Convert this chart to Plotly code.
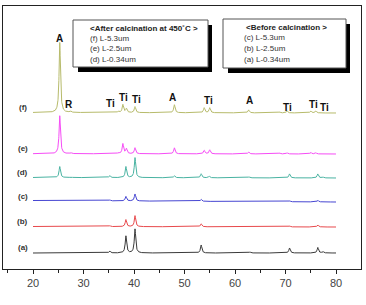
import numpy as np
import plotly.graph_objects as go

# ---------------- data ----------------
two_theta_range = [20, 80]

# peak positions (2 theta) and heights (a.u.) per pattern
a_pos = [35.2, 38.4, 40.2, 53.3, 63.0, 70.8, 76.4, 77.4]
a_hgt = [2, 17, 24, 8, 1, 5, 5.5, 1.5]

b_pos = [35.2, 38.4, 40.2, 53.3, 70.8, 76.4]
b_hgt = [1, 7, 11, 3, 1, 2]

c_pos = [35.2, 38.4, 40.2, 53.3, 70.8, 76.4]
c_hgt = [1, 4.5, 7, 2, 1, 1.5]

d_pos = [25.3, 27.5, 35.2, 38.4, 40.2, 48.0, 53.3, 54.9, 62.8, 70.8, 76.4, 77.4]
d_hgt = [11, 0.7, 2, 11, 20, 2, 4, 1.5, 1, 4, 4, 1]

e_pos = [25.3, 27.5, 36.9, 37.8, 38.5, 40.2, 48.0, 53.9, 55.0, 62.7, 68.8, 70.3, 75.0, 76.0]
e_hgt = [38, 1, 1, 10, 5, 6, 6, 3.5, 4, 2, 1, 1.2, 1.5, 1.2]

f_pos = [25.3, 27.4, 36.9, 37.8, 38.5, 40.2, 48.0, 53.9, 55.0, 62.7, 68.8, 70.3, 75.0, 76.0]
f_hgt = [70, 1.5, 1.5, 8, 4, 6, 8, 5, 5, 3, 1, 2, 2, 2]

series_labels = ["(a)", "(b)", "(c)", "(d)", "(e)", "(f)"]
offsets = [16, 42, 67, 91, 115, 156]
# baseline drift at 20 deg for each pattern (a.u.)
drift = [0, 0.5, 1.5, 0.5, 0.3, 0.5]

peak_labels = ["A", "R", "Ti", "Ti", "Ti", "A", "Ti", "A", "Ti", "Ti", "Ti"]
peak_label_x = [25.2, 27.1, 35.4, 38.0, 40.4, 47.7, 54.7, 62.8, 70.3, 75.6, 77.8]
peak_label_y = [231, 165, 166, 172, 170, 172, 169, 169, 162, 165, 162]

legend_after_title = "<After calcination at 450\u02daC >"
legend_after = ["(f) L-5.3um", "(e) L-2.5um", "(d) L-0.34um"]
legend_before_title = "<Before calcination >"
legend_before = ["(c) L-5.3um", "(b) L-2.5um", "(a) L-0.34um"]

x_ticks = [20, 30, 40, 50, 60, 70, 80]
x_title = "2 Theta"

colors = ["#3a3a3a", "#e8494c", "#4646d2", "#49b3a2", "#f64cf6", "#b7bb6b"]

# ---------------- build figure ----------------
x = np.arange(two_theta_range[0], two_theta_range[1] + 0.001, 0.02)
W = 0.33  # peak FWHM


def profile(pos, hgt, base, dr):
    y = np.full_like(x, base, dtype=float)
    y += dr * (80 - x) / 60
    for p, h in zip(pos, hgt):
        y += h / (1 + ((x - p) / (W / 2)) ** 2)
    return y


all_pos = [a_pos, b_pos, c_pos, d_pos, e_pos, f_pos]
all_hgt = [a_hgt, b_hgt, c_hgt, d_hgt, e_hgt, f_hgt]

fig = go.Figure()
for i in range(6):
    fig.add_trace(go.Scatter(
        x=x, y=profile(all_pos[i], all_hgt[i], offsets[i], drift[i]),
        mode="lines", line=dict(color=colors[i], width=1),
        showlegend=False, hoverinfo="skip"))

FONT = "Liberation Sans, Arial, sans-serif"
ann = []
for i, lab in enumerate(series_labels):
    ann.append(dict(x=18.0, y=offsets[i] + 5.5, text="<b>%s</b>" % lab, showarrow=False,
                    xref="x", yref="y", font=dict(family=FONT, size=8, color="#333")))
for t, px, py in zip(peak_labels, peak_label_x, peak_label_y):
    ann.append(dict(x=px, y=py, text="<b>%s</b>" % t, showarrow=False, xref="x", yref="y",
                    font=dict(family=FONT, size=10, color="#111")))


# pixel -> data helpers for decorations (plot area x 3..361, y 6..269)
def X(px):
    return 20 + (px - 33) / 5.05


def Y(py):
    return 269 - py


shapes = []


def box(x0, y0, x1, y1):
    shapes.append(dict(type="rect", xref="x", yref="y", x0=X(x0 + 5), x1=X(x1 + 4),
                       y0=Y(y0 + 5), y1=Y(y1 + 5), fillcolor="#000", line=dict(width=0)))
    shapes.append(dict(type="rect", xref="x", yref="y", x0=X(x0), x1=X(x1),
                       y0=Y(y0), y1=Y(y1), fillcolor="#fff",
                       line=dict(color="#555", width=1)))


box(73, 20, 208, 67)
box(223, 19, 346, 68)

ann.append(dict(x=X(88), y=Y(28), text="<b>%s</b>" % legend_after_title, showarrow=False,
                xref="x", yref="y", xanchor="left", font=dict(family=FONT, size=8, color="#222")))
for k, t in enumerate(legend_after):
    ann.append(dict(x=X(88), y=Y(38.5 + 10.4 * k), text=t, showarrow=False,
                    xref="x", yref="y", xanchor="left", font=dict(family=FONT, size=8, color="#333")))
ann.append(dict(x=X(286), y=Y(27), text="<b>%s</b>" % legend_before_title, showarrow=False,
                xref="x", yref="y", xanchor="center", font=dict(family=FONT, size=8, color="#222")))
for k, t in enumerate(legend_before):
    ann.append(dict(x=X(242), y=Y(37.5 + 10.8 * k), text=t, showarrow=False,
                    xref="x", yref="y", xanchor="left", font=dict(family=FONT, size=8, color="#333")))

ann.append(dict(x=0.5, y=Y(302), xref="paper", yref="y", text=x_title, showarrow=False,
                font=dict(family=FONT, size=10, color="#333")))

fig.update_layout(
    width=366, height=305,
    margin=dict(l=3, r=5, t=6, b=36),
    paper_bgcolor="white", plot_bgcolor="white",
    annotations=ann, shapes=shapes,
    xaxis=dict(range=[X(3), X(361)], tickvals=x_ticks, ticks="outside", ticklen=4,
               tickwidth=1.3, tickcolor="#222", showline=True, linecolor="#222",
               linewidth=1.3, mirror=True, showgrid=False, zeroline=False,
               tickfont=dict(family=FONT, size=11, color="#444"),
               minor=dict(ticks="outside", dtick=5, tick0=15, ticklen=3, tickcolor="#222",
                          tickwidth=1.3, showgrid=False)),
    yaxis=dict(range=[0, 263], showticklabels=False, ticks="", showline=True,
               linecolor="#222", linewidth=1.3, mirror=True, showgrid=False,
               zeroline=False),
)

fig.write_html("out.html")
